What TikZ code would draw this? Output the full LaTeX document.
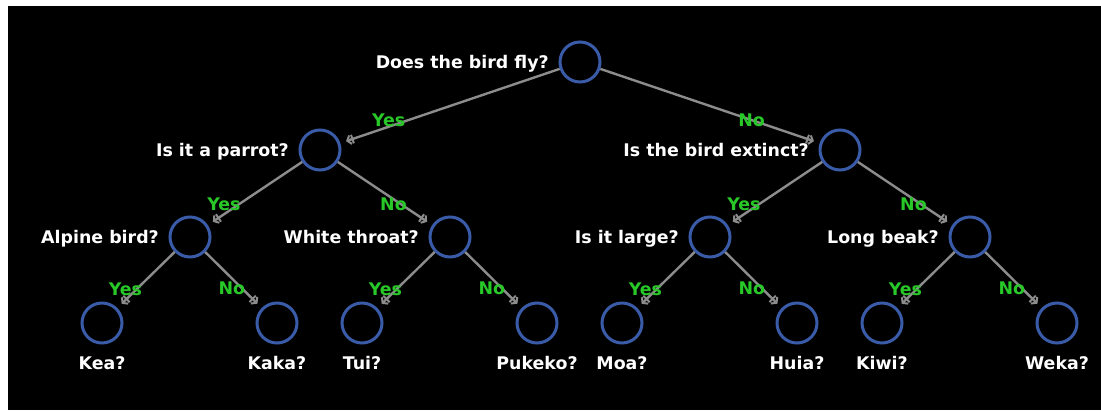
\documentclass[tikz,border=0pt]{standalone}
\usepackage{fontspec}
\setmainfont{DejaVu Sans}
\usetikzlibrary{arrows.meta}
\definecolor{qblue}{RGB}{58,92,168}
\definecolor{qgray}{RGB}{140,140,140}
\definecolor{qgreen}{RGB}{40,200,40}
\begin{document}
\begin{tikzpicture}[x=1pt, y=-1pt,
		question/.style={circle, draw=qblue, line width=3pt, minimum size=40pt, inner sep=0pt},
		ask/.style={text=white, font=\fontsize{17.4}{20}\selectfont\bfseries, inner sep=2pt,
			text height=12.5pt, text depth=0pt},
		answer/.style={text=qgreen, font=\fontsize{17.4}{20}\selectfont\bfseries, inner sep=0pt},
		branch/.style={draw=qgray, line width=2.4pt, shorten >=6pt,
			-{Bar[width=9pt, line width=2pt]Straight Barb[length=3.5pt, width=9pt, line width=2pt]}}
	]
		\fill[white] (0, 0) rectangle (1101, 410);
		\fill[black] (8, 6) rectangle (1101, 410);

		\node[question, label={[ask, label distance=7.5pt, yshift=-0.5pt]left:Does the bird fly?}] (fly) at (580, 62) {};

		\node[question, label={[ask, label distance=7.5pt, yshift=-0.5pt]left:Is it a parrot?}] (parrot) at (320, 150) {};
		\node[question, label={[ask, label distance=7.5pt, yshift=-0.5pt]left:Is the bird extinct?}] (extinct) at (840, 150) {};

		\node[question, label={[ask, label distance=7.5pt, yshift=-0.5pt]left:Alpine bird?}] (alpine) at (190, 237) {};
		\node[question, label={[ask, label distance=7.5pt, yshift=-0.5pt]left:White throat?}] (throat) at (450, 237) {};
		\node[question, label={[ask, label distance=7.5pt, yshift=-0.5pt]left:Is it large?}] (large) at (710, 237) {};
		\node[question, label={[ask, label distance=7.5pt, yshift=-0.5pt]left:Long beak?}] (beak) at (970, 237) {};

		\node[question, label={[ask, label distance=10.5pt]below:Kea?}] (kea) at (102, 323) {};
		\node[question, label={[ask, label distance=10.5pt]below:Kaka?}] (kaka) at (277, 323) {};
		\node[question, label={[ask, label distance=10.5pt]below:Tui?}] (tui) at (362, 323) {};
		\node[question, label={[ask, label distance=10.5pt]below:Pukeko?}] (pukeko) at (537, 323) {};
		\node[question, label={[ask, label distance=10.5pt]below:Moa?}] (moa) at (622, 323) {};
		\node[question, label={[ask, label distance=10.5pt]below:Huia?}] (huia) at (797, 323) {};
		\node[question, label={[ask, label distance=10.5pt]below:Kiwi?}] (kiwi) at (882, 323) {};
		\node[question, label={[ask, label distance=10.5pt]below:Weka?}] (weka) at (1057, 323) {};

		\draw[branch] (fly) -- node[answer, pos=.78, yshift=7pt] {Yes} (parrot);
		\draw[branch] (fly) -- node[answer, pos=.69] {No} (extinct);

		\draw[branch] (parrot) -- node[answer, pos=.83, yshift=10pt] {Yes} (alpine);
		\draw[branch] (parrot) -- node[answer, pos=.59, yshift=-5pt] {No} (throat);
		\draw[branch] (extinct) -- node[answer, pos=.83, yshift=10pt] {Yes} (large);
		\draw[branch] (extinct) -- node[answer, pos=.59, yshift=-5pt] {No} (beak);

		\draw[branch] (alpine) -- node[answer, pos=.86, yshift=11pt] {Yes} (kea);
		\draw[branch] (alpine) -- node[answer, pos=.47, yshift=-10pt] {No} (kaka);
		\draw[branch] (throat) -- node[answer, pos=.86, yshift=11pt] {Yes} (tui);
		\draw[branch] (throat) -- node[answer, pos=.47, yshift=-10pt] {No} (pukeko);
		\draw[branch] (large) -- node[answer, pos=.86, yshift=11pt] {Yes} (moa);
		\draw[branch] (large) -- node[answer, pos=.47, yshift=-10pt] {No} (huia);
		\draw[branch] (beak) -- node[answer, pos=.86, yshift=11pt] {Yes} (kiwi);
		\draw[branch] (beak) -- node[answer, pos=.47, yshift=-10pt] {No} (weka);
\end{tikzpicture}
\end{document}
